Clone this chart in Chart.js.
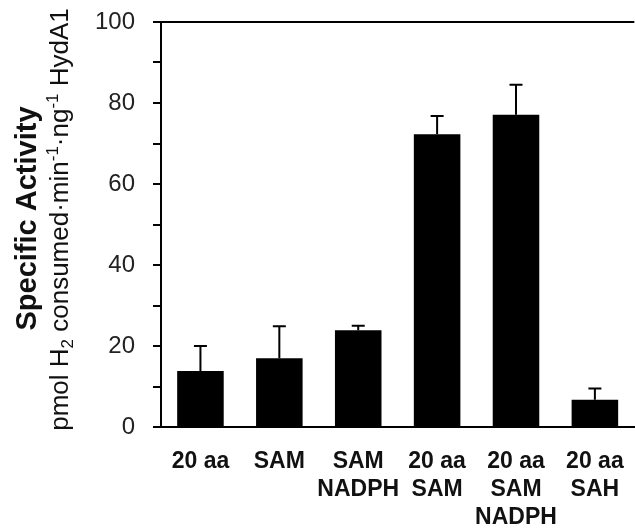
<!DOCTYPE html>
<html>
<head>
<meta charset="utf-8">
<script src="https://cdn.jsdelivr.net/npm/chart.js@4"></script>
<style>
  html, body { margin: 0; padding: 0; background: #fff; overflow: hidden; }
  canvas { display: block; }
</style>
</head>
<body>
<canvas id="chart" width="645" height="528"></canvas>
<script>
const categories = [
  ['20 aa'],
  ['SAM'],
  ['SAM', 'NADPH'],
  ['20 aa', 'SAM'],
  ['20 aa', 'SAM', 'NADPH'],
  ['20 aa', 'SAH']
];
const activity = [13.8, 17.0, 23.9, 72.3, 77.1, 6.7];
const errorUp = [6.2, 7.9, 1.1, 4.5, 7.4, 2.8];
const yTitle = 'Specific Activity';
// unit line pieces: [text, 'sub' | 'sup' | null]
const yUnits = [
  ['pmol H', null], ['2', 'sub'], [' consumed\u00B7min', null], ['-1', 'sup'],
  ['\u00B7ng', null], ['-1', 'sup'], [' HydA1', null]
];

const FONT = '"Liberation Sans", Arial, Helvetica, sans-serif';

// error bars (upper only) drawn through the chart scales
const errorBars = {
  id: 'errorBars',
  afterDatasetsDraw(chart) {
    const { ctx, scales: { y } } = chart;
    const meta = chart.getDatasetMeta(0);
    ctx.save();
    ctx.strokeStyle = '#000';
    ctx.lineWidth = 2;
    meta.data.forEach((bar, i) => {
      const yBar = y.getPixelForValue(activity[i]);
      const yTop = y.getPixelForValue(activity[i] + errorUp[i]);
      ctx.beginPath();
      ctx.moveTo(bar.x, yBar);
      ctx.lineTo(bar.x, yTop);
      ctx.moveTo(bar.x - 6.5, yTop);
      ctx.lineTo(bar.x + 6.5, yTop);
      ctx.stroke();
    });
    ctx.restore();
  }
};

// two-line rotated y title with sub/superscripts
const yAxisTitle = {
  id: 'yAxisTitle',
  afterDraw(chart) {
    const { ctx, chartArea } = chart;
    const mid = (chartArea.top + chartArea.bottom) / 2;
    ctx.save();
    ctx.fillStyle = '#111';
    ctx.textBaseline = 'middle';

    ctx.save();
    ctx.translate(28, mid - 6);
    ctx.rotate(-Math.PI / 2);
    ctx.textAlign = 'center';
    ctx.font = 'bold 29px ' + FONT;
    ctx.fillText(yTitle, 0, 0);
    ctx.restore();

    const base = 26, small = 17;
    ctx.save();
    ctx.translate(61, mid - 5);
    ctx.rotate(-Math.PI / 2);
    ctx.textAlign = 'left';
    let total = 0;
    yUnits.forEach(([t, k]) => {
      ctx.font = (k ? small : base) + 'px ' + FONT;
      total += ctx.measureText(t).width;
    });
    let x = -total / 2;
    yUnits.forEach(([t, k]) => {
      ctx.font = (k ? small : base) + 'px ' + FONT;
      const dy = k === 'sub' ? 7 : k === 'sup' ? -8 : 0;
      ctx.fillText(t, x, dy);
      x += ctx.measureText(t).width;
    });
    ctx.restore();
    ctx.restore();
  }
};

new Chart(document.getElementById('chart'), {
  type: 'bar',
  data: {
    labels: categories,
    datasets: [{
      data: activity,
      backgroundColor: '#000',
      borderWidth: 0,
      barPercentage: 0.59,
      categoryPercentage: 1
    }]
  },
  options: {
    responsive: false,
    animation: false,
    layout: { padding: { top: 22, right: 4, left: 0, bottom: 0 } },
    plugins: {
      legend: { display: false },
      tooltip: { enabled: false }
    },
    scales: {
      x: {
        grid: { display: false, drawTicks: false },
        border: { display: true, color: '#000', width: 2 },
        ticks: {
          color: '#111',
          padding: 21,
          maxRotation: 0,
          autoSkip: false,
          font: { family: FONT, size: 23, weight: 'bold', lineHeight: 28 / 23 }
        },
        afterFit(scale) { scale.height = 101; }
      },
      y: {
        min: 0,
        max: 100,
        grid: {
          drawOnChartArea: true,
          color: c => (c.tick && c.tick.value === 100 ? '#000' : 'rgba(0,0,0,0)'),
          tickColor: '#000',
          tickLength: 8,
          lineWidth: 2
        },
        border: { display: true, color: '#000', width: 2 },
        ticks: {
          stepSize: 10,
          padding: 18,
          color: '#222',
          font: { family: FONT, size: 24 },
          callback: v => (v % 20 === 0 ? v : '')
        },
        afterFit(scale) {
          scale.width = 161;
          scale.paddingTop = 0;
          scale.paddingBottom = 0;
        }
      }
    }
  },
  plugins: [errorBars, yAxisTitle]
});
</script>
</body>
</html>
